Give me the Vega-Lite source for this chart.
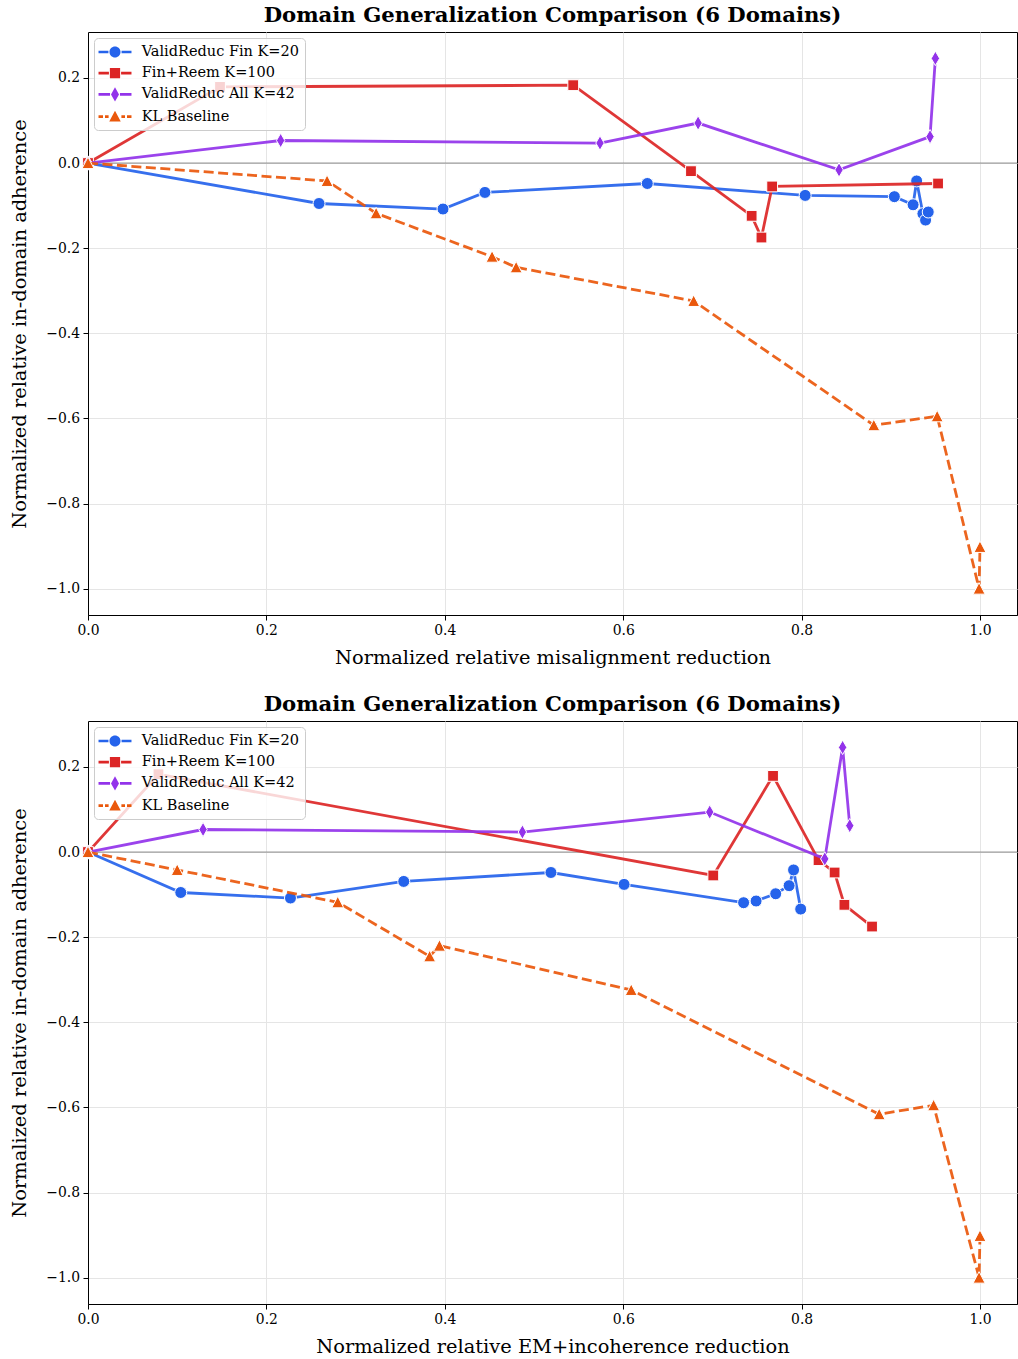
{
  "$schema": "https://vega.github.io/schema/vega-lite/v6.json",
  "padding": {"left": 9, "top": 4, "right": 0, "bottom": 0},
  "background": "white",
  "datasets": {
    "runs": [
      {"series": "ValidReduc Fin K=20", "mis": 0.0, "em": 0.0, "adh": 0.0},
      {"series": "ValidReduc Fin K=20", "mis": 0.259, "em": 0.104, "adh": -0.095},
      {"series": "ValidReduc Fin K=20", "mis": 0.398, "em": 0.227, "adh": -0.108},
      {"series": "ValidReduc Fin K=20", "mis": 0.445, "em": 0.354, "adh": -0.069},
      {"series": "ValidReduc Fin K=20", "mis": 0.627, "em": 0.519, "adh": -0.048},
      {"series": "ValidReduc Fin K=20", "mis": 0.804, "em": 0.601, "adh": -0.076},
      {"series": "ValidReduc Fin K=20", "mis": 0.904, "em": 0.786, "adh": -0.079},
      {"series": "ValidReduc Fin K=20", "mis": 0.925, "em": 0.771, "adh": -0.098},
      {"series": "ValidReduc Fin K=20", "mis": 0.929, "em": 0.791, "adh": -0.042},
      {"series": "ValidReduc Fin K=20", "mis": 0.936, "em": 0.735, "adh": -0.119},
      {"series": "ValidReduc Fin K=20", "mis": 0.939, "em": 0.799, "adh": -0.134},
      {"series": "ValidReduc Fin K=20", "mis": 0.942, "em": 0.749, "adh": -0.115},
      {"series": "Fin+Reem K=100", "mis": 0.0, "em": 0.0, "adh": 0.0},
      {"series": "Fin+Reem K=100", "mis": 0.148, "em": 0.768, "adh": 0.179},
      {"series": "Fin+Reem K=100", "mis": 0.544, "em": 0.079, "adh": 0.183},
      {"series": "Fin+Reem K=100", "mis": 0.676, "em": 0.819, "adh": -0.019},
      {"series": "Fin+Reem K=100", "mis": 0.744, "em": 0.848, "adh": -0.124},
      {"series": "Fin+Reem K=100", "mis": 0.755, "em": 0.879, "adh": -0.175},
      {"series": "Fin+Reem K=100", "mis": 0.767, "em": 0.701, "adh": -0.055},
      {"series": "Fin+Reem K=100", "mis": 0.953, "em": 0.837, "adh": -0.048},
      {"series": "ValidReduc All K=42", "mis": 0.0, "em": 0.0, "adh": 0.0},
      {"series": "ValidReduc All K=42", "mis": 0.216, "em": 0.129, "adh": 0.053},
      {"series": "ValidReduc All K=42", "mis": 0.574, "em": 0.487, "adh": 0.047},
      {"series": "ValidReduc All K=42", "mis": 0.684, "em": 0.697, "adh": 0.094},
      {"series": "ValidReduc All K=42", "mis": 0.842, "em": 0.826, "adh": -0.016},
      {"series": "ValidReduc All K=42", "mis": 0.944, "em": 0.854, "adh": 0.062},
      {"series": "ValidReduc All K=42", "mis": 0.950, "em": 0.846, "adh": 0.246},
      {"series": "KL Baseline", "mis": 0.0, "em": 0.0, "adh": 0.0},
      {"series": "KL Baseline", "mis": 0.268, "em": 0.100, "adh": -0.042},
      {"series": "KL Baseline", "mis": 0.323, "em": 0.280, "adh": -0.118},
      {"series": "KL Baseline", "mis": 0.453, "em": 0.394, "adh": -0.220},
      {"series": "KL Baseline", "mis": 0.480, "em": 0.383, "adh": -0.245},
      {"series": "KL Baseline", "mis": 0.679, "em": 0.609, "adh": -0.324},
      {"series": "KL Baseline", "mis": 0.881, "em": 0.887, "adh": -0.616},
      {"series": "KL Baseline", "mis": 0.952, "em": 0.948, "adh": -0.595},
      {"series": "KL Baseline", "mis": 0.999, "em": 0.999, "adh": -1.0},
      {"series": "KL Baseline", "mis": 1.0, "em": 1.0, "adh": -0.902}
    ]
  },
  "spacing": 106,
  "bounds": "flush",
  "resolve": {
    "scale": {"x": "independent", "y": "independent", "color": "independent"},
    "legend": {"color": "independent"}
  },
  "vconcat": [
    {
      "title": "Domain Generalization Comparison (6 Domains)",
      "width": 929,
      "height": 583,
      "layer": [
        {
          "data": {"values": [{}]},
          "mark": {"type": "rule", "color": "#8a8a8a", "strokeWidth": 1},
          "encoding": {"y": {"datum": 0, "type": "quantitative", "scale": {"domain": [-1.062, 0.308], "nice": false, "zero": false}}}
        },
        {
          "data": {"name": "runs"},
          "encoding": {
            "x": {"field": "mis", "type": "quantitative", "scale": {"domain": [0, 1.0415], "nice": false, "zero": false},
                  "axis": {"values": [0, 0.2, 0.4, 0.6, 0.8, 1.0], "format": ".1f", "title": "Normalized relative misalignment reduction", "titlePadding": 11}},
            "y": {"field": "adh", "type": "quantitative", "scale": {"domain": [-1.062, 0.308], "nice": false, "zero": false},
                  "axis": {"values": [-1.0, -0.8, -0.6, -0.4, -0.2, 0.0, 0.2], "format": ".1f", "title": "Normalized relative in-domain adherence", "titlePadding": 16}},
            "color": {"field": "series", "type": "nominal", "sort": null,
                      "scale": {"domain": ["ValidReduc Fin K=20", "Fin+Reem K=100", "ValidReduc All K=42", "KL Baseline"], "range": ["#2563eb", "#dc2626", "#9333ea", "#ea580c"]},
                      "legend": {"title": null,
                                 "encode": {"symbols": {"update": {
                                   "shape": {"signal": "datum.value === 'ValidReduc Fin K=20' ? 'M-2.06,-0.17H-0.82V0.17H-2.06Z M0.82,-0.17H2.06V0.17H0.82Z M-0.69,0A0.69,0.69 0 1 0 0.69,0A0.69,0.69 0 1 0 -0.69,0Z' : datum.value === 'Fin+Reem K=100' ? 'M-2.06,-0.17H-0.76V0.17H-2.06Z M0.76,-0.17H2.06V0.17H0.76Z M-0.64,-0.64H0.64V0.64H-0.64Z' : datum.value === 'ValidReduc All K=42' ? 'M-2.06,-0.17H-0.62V0.17H-2.06Z M0.62,-0.17H2.06V0.17H0.62Z M0,-0.88L0.5,0L0,0.88L-0.5,0Z' : 'M-2.06,-0.17H-1.5V0.17H-2.06Z M-1.25,-0.17H-0.8V0.17H-1.25Z M0.8,-0.17H1.25V0.17H0.8Z M1.5,-0.17H2.06V0.17H1.5Z M0,-0.72L0.72,0.62L-0.72,0.62Z'"},
                                   "fill": {"scale": "color", "field": "value"},
                                   "opacity": {"value": 1}
                                 }}}}}
          },
          "layer": [
            {"transform": [{"filter": {"field": "series", "equal": "ValidReduc Fin K=20"}}],
             "mark": {"type": "line", "strokeWidth": 2.8, "strokeOpacity": 0.92}},
            {"transform": [{"filter": {"field": "series", "equal": "ValidReduc Fin K=20"}}],
             "mark": {"type": "point", "shape": "circle", "filled": true, "stroke": "white", "strokeWidth": 1, "opacity": 1, "size": 144}},
            {"transform": [{"filter": {"field": "series", "equal": "Fin+Reem K=100"}}],
             "mark": {"type": "line", "strokeWidth": 2.8, "strokeOpacity": 0.92}},
            {"transform": [{"filter": {"field": "series", "equal": "Fin+Reem K=100"}}],
             "mark": {"type": "point", "shape": "M-0.9,-0.9H0.9V0.9H-0.9Z", "filled": true, "stroke": "white", "strokeWidth": 1, "opacity": 1, "size": 144}},
            {"transform": [{"filter": {"field": "series", "equal": "ValidReduc All K=42"}}],
             "mark": {"type": "line", "strokeWidth": 2.8, "strokeOpacity": 0.92}},
            {"transform": [{"filter": {"field": "series", "equal": "ValidReduc All K=42"}}],
             "mark": {"type": "point", "shape": "M0,-1.2L0.7,0L0,1.2L-0.7,0Z", "filled": true, "stroke": "white", "strokeWidth": 1, "opacity": 1, "size": 144}},
            {"transform": [{"filter": {"field": "series", "equal": "KL Baseline"}}],
             "mark": {"type": "line", "strokeWidth": 2.8, "strokeOpacity": 0.92, "strokeDash": [10, 4.5]}},
            {"transform": [{"filter": {"field": "series", "equal": "KL Baseline"}}],
             "mark": {"type": "point", "shape": "M0,-1L1,0.92L-1,0.92Z", "filled": true, "stroke": "white", "strokeWidth": 1, "opacity": 1, "size": 144}}
          ]
        }
      ]
    },
    {
      "title": "Domain Generalization Comparison (6 Domains)",
      "width": 929,
      "height": 583,
      "layer": [
        {
          "data": {"values": [{}]},
          "mark": {"type": "rule", "color": "#8a8a8a", "strokeWidth": 1},
          "encoding": {"y": {"datum": 0, "type": "quantitative", "scale": {"domain": [-1.062, 0.308], "nice": false, "zero": false}}}
        },
        {
          "data": {"name": "runs"},
          "encoding": {
            "x": {"field": "em", "type": "quantitative", "scale": {"domain": [0, 1.0415], "nice": false, "zero": false},
                  "axis": {"values": [0, 0.2, 0.4, 0.6, 0.8, 1.0], "format": ".1f", "title": "Normalized relative EM+incoherence reduction", "titlePadding": 11}},
            "y": {"field": "adh", "type": "quantitative", "scale": {"domain": [-1.062, 0.308], "nice": false, "zero": false},
                  "axis": {"values": [-1.0, -0.8, -0.6, -0.4, -0.2, 0.0, 0.2], "format": ".1f", "title": "Normalized relative in-domain adherence", "titlePadding": 16}},
            "color": {"field": "series", "type": "nominal", "sort": null,
                      "scale": {"domain": ["ValidReduc Fin K=20", "Fin+Reem K=100", "ValidReduc All K=42", "KL Baseline"], "range": ["#2563eb", "#dc2626", "#9333ea", "#ea580c"]},
                      "legend": {"title": null,
                                 "encode": {"symbols": {"update": {
                                   "shape": {"signal": "datum.value === 'ValidReduc Fin K=20' ? 'M-2.06,-0.17H-0.82V0.17H-2.06Z M0.82,-0.17H2.06V0.17H0.82Z M-0.69,0A0.69,0.69 0 1 0 0.69,0A0.69,0.69 0 1 0 -0.69,0Z' : datum.value === 'Fin+Reem K=100' ? 'M-2.06,-0.17H-0.76V0.17H-2.06Z M0.76,-0.17H2.06V0.17H0.76Z M-0.64,-0.64H0.64V0.64H-0.64Z' : datum.value === 'ValidReduc All K=42' ? 'M-2.06,-0.17H-0.62V0.17H-2.06Z M0.62,-0.17H2.06V0.17H0.62Z M0,-0.88L0.5,0L0,0.88L-0.5,0Z' : 'M-2.06,-0.17H-1.5V0.17H-2.06Z M-1.25,-0.17H-0.8V0.17H-1.25Z M0.8,-0.17H1.25V0.17H0.8Z M1.5,-0.17H2.06V0.17H1.5Z M0,-0.72L0.72,0.62L-0.72,0.62Z'"},
                                   "fill": {"scale": "color", "field": "value"},
                                   "opacity": {"value": 1}
                                 }}}}}
          },
          "layer": [
            {"transform": [{"filter": {"field": "series", "equal": "ValidReduc Fin K=20"}}],
             "mark": {"type": "line", "strokeWidth": 2.8, "strokeOpacity": 0.92}},
            {"transform": [{"filter": {"field": "series", "equal": "ValidReduc Fin K=20"}}],
             "mark": {"type": "point", "shape": "circle", "filled": true, "stroke": "white", "strokeWidth": 1, "opacity": 1, "size": 144}},
            {"transform": [{"filter": {"field": "series", "equal": "Fin+Reem K=100"}}],
             "mark": {"type": "line", "strokeWidth": 2.8, "strokeOpacity": 0.92}},
            {"transform": [{"filter": {"field": "series", "equal": "Fin+Reem K=100"}}],
             "mark": {"type": "point", "shape": "M-0.9,-0.9H0.9V0.9H-0.9Z", "filled": true, "stroke": "white", "strokeWidth": 1, "opacity": 1, "size": 144}},
            {"transform": [{"filter": {"field": "series", "equal": "ValidReduc All K=42"}}],
             "mark": {"type": "line", "strokeWidth": 2.8, "strokeOpacity": 0.92}},
            {"transform": [{"filter": {"field": "series", "equal": "ValidReduc All K=42"}}],
             "mark": {"type": "point", "shape": "M0,-1.2L0.7,0L0,1.2L-0.7,0Z", "filled": true, "stroke": "white", "strokeWidth": 1, "opacity": 1, "size": 144}},
            {"transform": [{"filter": {"field": "series", "equal": "KL Baseline"}}],
             "mark": {"type": "line", "strokeWidth": 2.8, "strokeOpacity": 0.92, "strokeDash": [10, 4.5]}},
            {"transform": [{"filter": {"field": "series", "equal": "KL Baseline"}}],
             "mark": {"type": "point", "shape": "M0,-1L1,0.92L-1,0.92Z", "filled": true, "stroke": "white", "strokeWidth": 1, "opacity": 1, "size": 144}}
          ]
        }
      ]
    }
  ],
  "config": {
    "font": "DejaVu Serif",
    "view": {"stroke": "black", "strokeWidth": 1},
    "axis": {
      "grid": true, "gridColor": "#e5e5e5", "gridWidth": 1, "labelFlush": false,
      "domainColor": "black", "domainWidth": 1, "tickColor": "black", "tickSize": 5, "tickWidth": 1,
      "labelFont": "DejaVu Serif", "labelFontSize": 13.9, "labelColor": "black", "labelPadding": 3.5,
      "titleFont": "DejaVu Serif", "titleFontSize": 19.4, "titleFontWeight": "normal", "titleColor": "black"
    },
    "legend": {
      "orient": "top-left", "offset": 6, "padding": 6,
      "fillColor": "rgba(255,255,255,0.8)", "strokeColor": "#cccccc", "cornerRadius": 4,
      "labelFontSize": 14.5, "labelFont": "DejaVu Serif", "labelColor": "black",
      "symbolSize": 256, "symbolStrokeWidth": 0, "symbolOpacity": 1, "rowPadding": 6.2, "labelOffset": 18.7, "symbolOffset": 7,
      "labelLimit": 300
    },
    "title": {"font": "DejaVu Serif", "fontSize": 21.2, "fontWeight": "bold", "color": "black", "offset": 6, "anchor": "middle"}
  }
}
